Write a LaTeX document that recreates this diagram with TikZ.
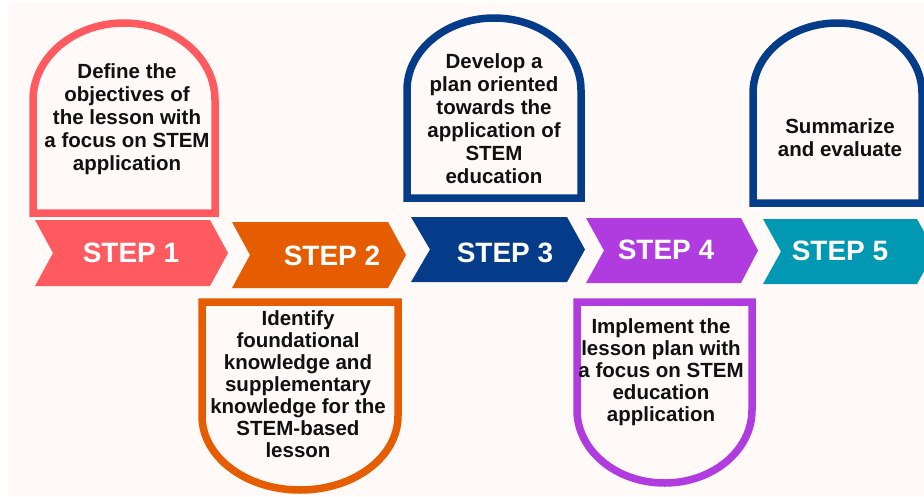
\documentclass[tikz,border=0pt]{standalone}
\usepackage{fontspec}
\setmainfont{Liberation Sans}
\definecolor{paper}{HTML}{FFF9F8}
\definecolor{stepcoral}{HTML}{FF5A5F}
\definecolor{steporange}{HTML}{E65C00}
\definecolor{stepnavy}{HTML}{053C8A}
\definecolor{steppurple}{HTML}{B03CE0}
\definecolor{stepteal}{HTML}{0098B3}
\definecolor{inktext}{HTML}{111111}

% chevron: colour, left, notch x, body right, tip x, top, bottom
\newcommand\chevronshape[7]{%
  \fill[#1] (#2,#6) -- (#4,#6) -- (#5,{(#6+#7)/2}) -- (#4,#7) -- (#2,#7)
    -- (#3,{(#6+#7)/2}) -- cycle;}
% box with a round arch on top: colour, left, right, top, bottom, x radius, y radius
\newcommand\archtop[7]{%
  \draw[boxline,draw=#1] (#2,#5) -- (#2,{#4+#7})
    arc[start angle=180,end angle=0,x radius=#6 pt,y radius=#7 pt]
    -- (#3,#5) -- cycle;}
% box with a round arch below
\newcommand\archbottom[7]{%
  \draw[boxline,draw=#1] (#2,#4) -- (#2,{#5-#7})
    arc[start angle=180,end angle=360,x radius=#6 pt,y radius=#7 pt]
    -- (#3,#4) -- cycle;}

\tikzset{
  boxline/.style={line width=7.5pt, fill=paper, line join=miter},
  boxtext/.style={align=center, text=inktext, inner sep=0pt,
    font=\bfseries\fontsize{20.5}{23}\selectfont},
  steplabel/.style={text=white, inner sep=0pt,
    font=\bfseries\fontsize{28}{30}\selectfont},
}

\begin{document}
\begin{tikzpicture}[x=1pt,y=-1pt]
  \useasboundingbox (0,0) rectangle (924,496);
  \clip (0,0) rectangle (924,496);
  \fill[white] (0,0) rectangle (924,496);
  \fill[paper] (8,2) rectangle (924,496);

  % step arrows
  \chevronshape{stepcoral}{35}{53}{210}{228}{220}{286}
  \chevronshape{steporange}{232}{250}{388}{406}{222}{288}
  \chevronshape{stepnavy}{411}{430}{567}{585}{217}{282}
  \chevronshape{steppurple}{586}{604}{741}{758}{218}{283}
  \chevronshape{stepteal}{763}{781}{917}{935}{219}{284}

  \node[steplabel] (s1) at (131,253) {STEP 1};
  \node[steplabel] (s2) at (332,256) {STEP 2};
  \node[steplabel] (s3) at (505,253) {STEP 3};
  \node[steplabel] (s4) at (666,250) {STEP 4};
  \node[steplabel] (s5) at (840,251) {STEP 5};

  % description boxes
  \archtop{stepcoral}{33}{215}{23}{213}{91}{77}
  \archbottom{steporange}{202}{398}{302}{490}{98}{74}
  \archtop{stepnavy}{407}{581}{18}{198}{87}{72}
  \archbottom{steppurple}{577}{752}{302}{483}{87.5}{73}
  \archtop{stepnavy}{753}{922}{23}{203}{84.5}{70}

  \node[boxtext] (t1) at (127,119) {Define the\\objectives of\\the lesson with\\a focus on STEM\\application};
  \node[boxtext, font=\bfseries\fontsize{20.5}{22}\selectfont] (t2) at (298,384)
    {Identify\\foundational\\knowledge and\\supplementary\\knowledge for the\\STEM-based\\lesson};
  \node[boxtext] (t3) at (494,119) {Develop a\\plan oriented\\towards the\\application of\\STEM\\education};
  \node[boxtext, font=\bfseries\fontsize{20.5}{22}\selectfont] (t4) at (661,372)
    {Implement the\\lesson plan with\\a focus on STEM\\education\\application};
  \node[boxtext] (t5) at (840,138) {Summarize\\and evaluate};
\end{tikzpicture}
\end{document}
